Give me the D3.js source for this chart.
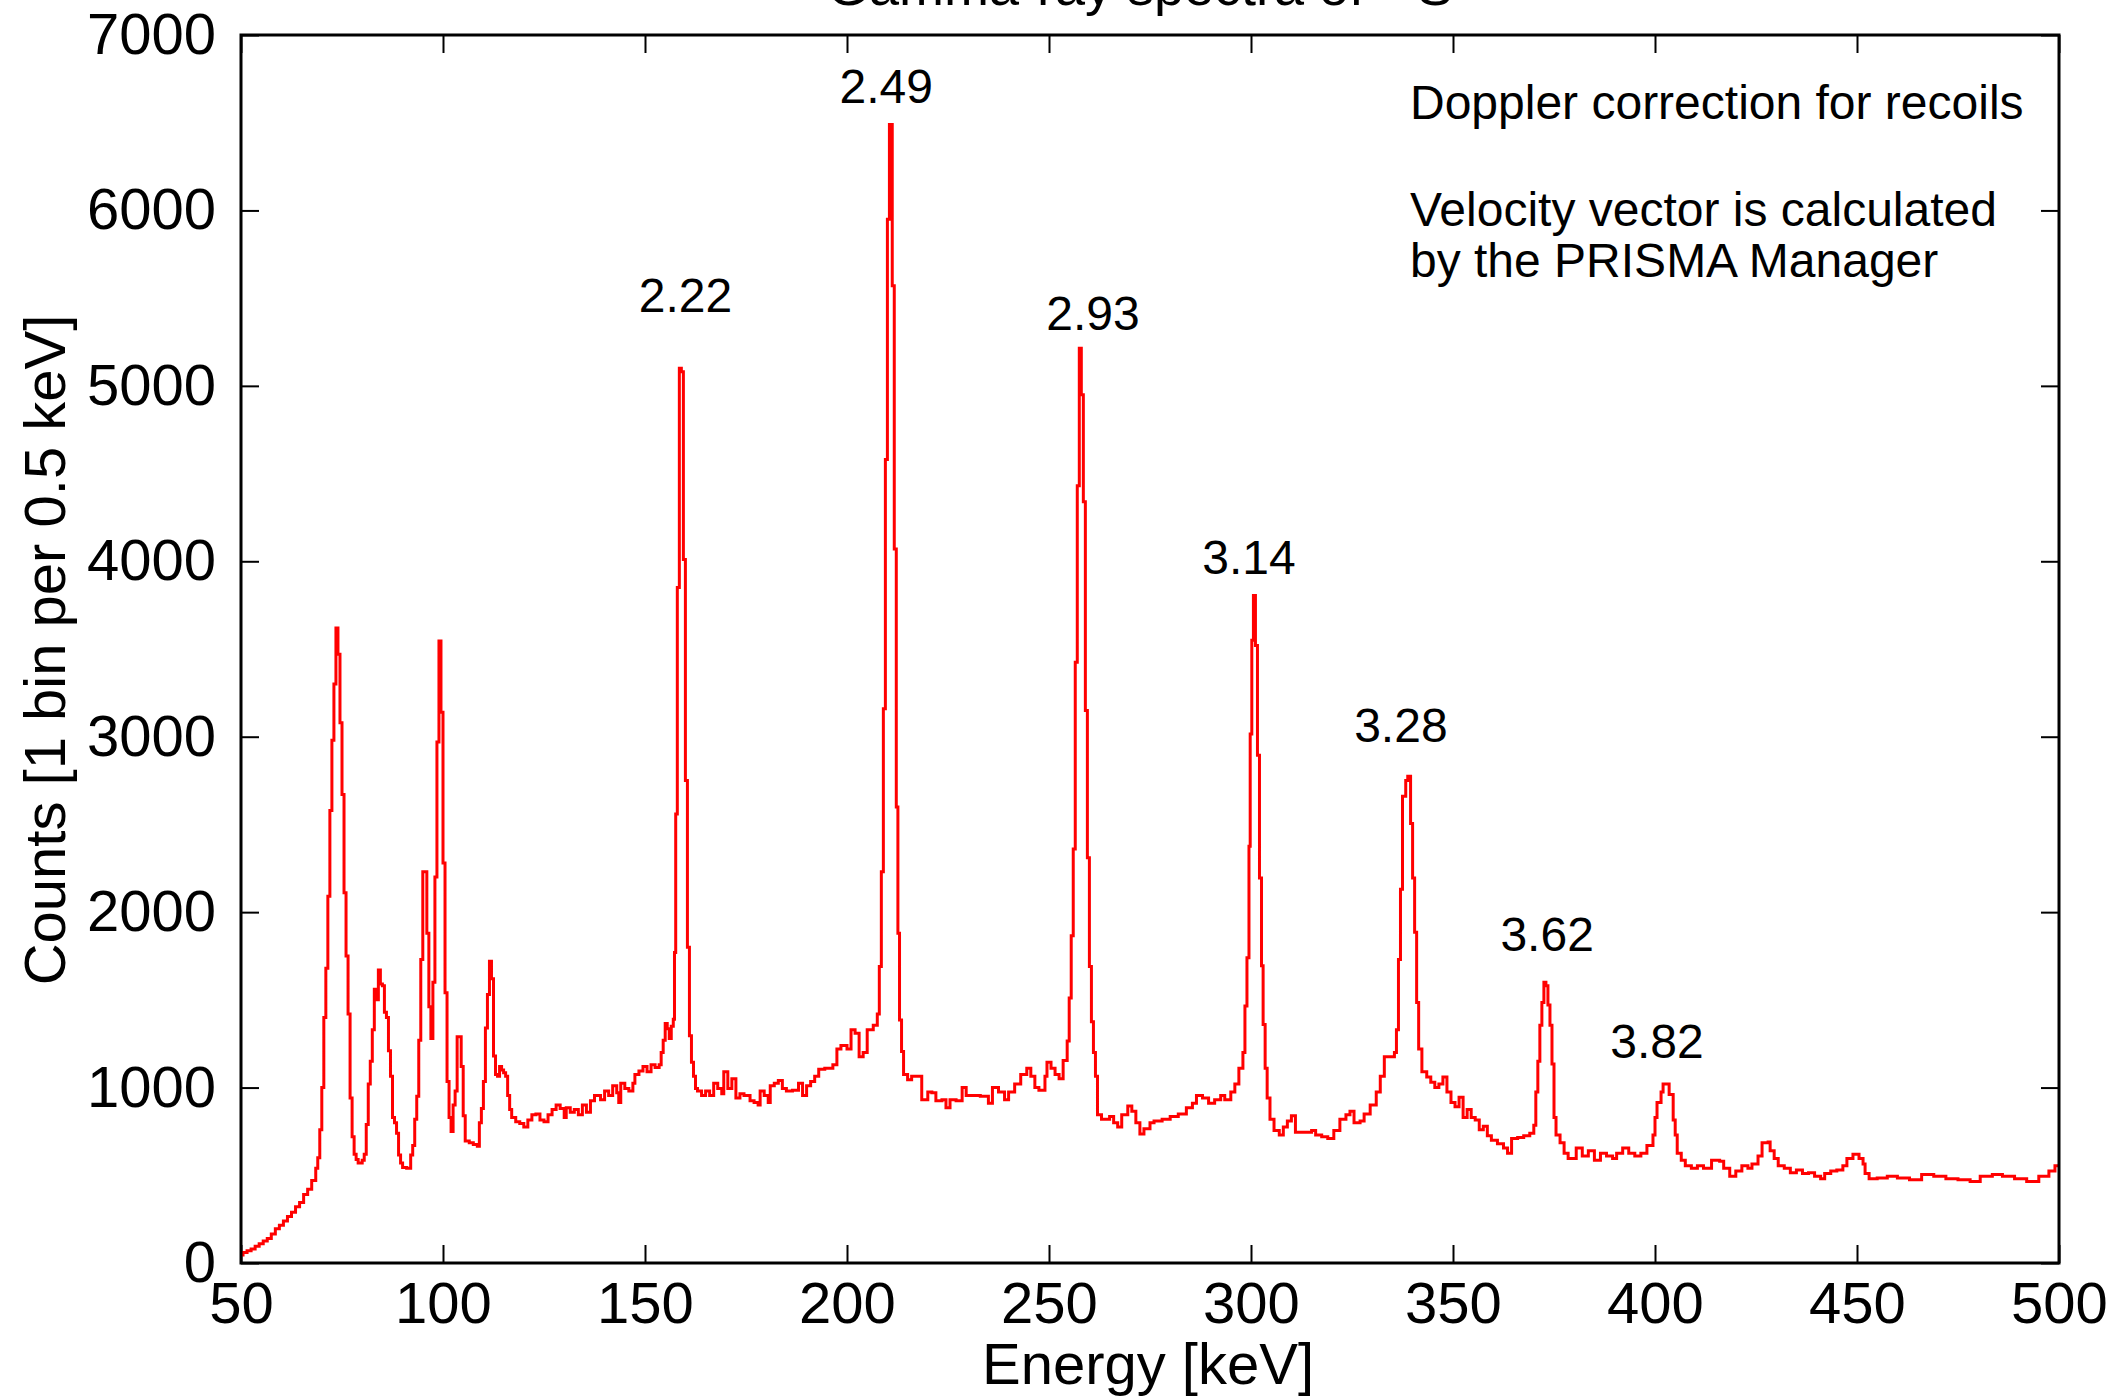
<!DOCTYPE html>
<html lang="en">
<meta charset="utf-8">
<head>
    <script src='https://d3js.org/d3.v7.min.js'></script>
    <style>
        body { margin: 0; background: #fff; }
        text { font-family: "Liberation Sans", Arial, sans-serif; fill: #000; }
    </style>
</head>
<body>
</body>

<script>
    var width = 2118, height = 1397;
    var margin = {left: 241, right: 59, top: 35, bottom: 134};

    // spectrum: [energy keV (bin start), counts]
    var spectrum = [
        [50,45],[50.5,60],[51.5,70],[52.5,80],[53.5,95],[54.5,110],[55.5,125],[56.5,140],[57.5,165],
        [58.5,195],[59.5,215],[60.5,240],[61.5,265],[62.5,290],[63.5,320],[64.5,345],[65.5,390],
        [66.5,420],[67.5,470],[68.5,540],[69,600],[69.5,760],[70,1000],[70.5,1400],[71,1680],
        [71.5,2090],[72,2580],[72.5,2980],[73,3300],[73.5,3620],[74,3470],[74.5,3080],[75,2670],
        [75.5,2110],[76,1750],[76.5,1420],[77,940],[77.5,720],[78,620],[78.5,590],[79,570],[80,585],
        [80.5,620],[81,790],[81.5,1020],[82,1150],[82.5,1330],[83,1560],[83.5,1500],[84,1670],
        [84.5,1590],[85,1580],[85.5,1430],[86,1400],[86.5,1210],[87,1065],[87.5,830],[88,800],
        [88.5,740],[89,615],[89.5,570],[90,545],[91,540],[92,615],[92.5,670],[93,820],[93.5,950],
        [94,1270],[94.5,1730],[95,2230],[96,1880],[96.5,1460],[97,1280],[97.5,1600],[98,2200],
        [98.5,2970],[99,3545],[99.5,3140],[100,2280],[100.5,1540],[101,1035],[101.5,830],[102,750],
        [102.5,900],[103,980],[103.5,1290],[104.5,1120],[105,840],[105.5,695],[106.5,685],[107.5,675],
        [108.5,665],[109,800],[109.5,880],[110,1035],[110.5,1340],[111,1530],[111.5,1720],[112,1620],
        [112.5,1180],[113,1075],[113.5,1065],[114,1120],[114.5,1100],[115,1085],[115.5,1065],[116,955],
        [116.5,875],[117,830],[118,805],[119,795],[120,775],[121,815],[122,845],[123,850],[124,815],
        [125,805],[126,845],[127,875],[128,900],[129,880],[130,830],[130.5,885],[131.5,860],[132.5,875],
        [133.5,845],[134.5,900],[135.5,860],[136.5,925],[137.5,955],[139,930],[140,980],[141,955],
        [142,1010],[143,970],[143.5,915],[144,1025],[145,995],[146,980],[147,1025],[147.5,1075],
        [148.5,1095],[149.5,1120],[150.5,1090],[151.5,1130],[152.5,1115],[153.5,1130],[154,1200],
        [154.5,1270],[155,1365],[155.5,1335],[156,1280],[156.5,1350],[157,1390],[157.3,1770],
        [157.6,2560],[158,3850],[158.5,5100],[159,5080],[159.5,4010],[160,2750],[160.5,1800],
        [161,1295],[161.5,1145],[162,1065],[162.5,995],[163,980],[164,955],[165,980],[166,955],
        [167,1025],[168,995],[169,965],[169.5,1090],[170.5,995],[171.5,1050],[172.5,940],[173.5,965],
        [174.5,955],[176,925],[177,915],[178,900],[178.5,980],[179.5,955],[180.5,915],[181,1010],
        [182,1025],[183,1040],[184,995],[185,980],[186.5,985],[188,1025],[189,955],[190,1010],
        [191,1035],[192,1065],[193,1105],[194.5,1110],[196.5,1130],[197.5,1220],[198.5,1240],
        [200,1220],[201,1330],[202,1310],[203,1175],[204,1200],[205,1330],[206.5,1355],[207.5,1420],
        [208,1690],[208.5,2230],[209,3160],[209.5,4580],[210,5950],[210.5,6490],[211.2,5570],
        [211.7,4070],[212.2,2600],[212.6,1880],[213,1385],[213.5,1205],[214,1075],[215,1045],
        [216,1065],[218.5,930],[220,975],[221,970],[222,925],[223.5,930],[224.5,885],[225.5,930],
        [227,925],[228.5,1000],[229.5,955],[231,955],[233,950],[235,910],[236,1000],[237.5,975],
        [239,930],[240,975],[241.5,1020],[243,1075],[244.5,1110],[245.5,1065],[246.5,1000],[247.5,985],
        [249,1065],[249.5,1145],[250.5,1110],[251.5,1075],[252.5,1050],[253.5,1155],[254.5,1265],
        [255,1510],[255.5,1865],[256,2360],[256.5,3425],[257,4430],[257.5,5215],[258,4950],[258.5,4340],
        [259,3150],[259.5,2310],[260,1690],[260.5,1375],[261,1200],[261.5,1065],[262,845],[263,820],
        [265,835],[266,800],[267,775],[268,845],[269.5,895],[270.5,865],[271.5,800],[272.5,735],
        [273.5,765],[275,800],[276,810],[278,820],[280,835],[282,850],[284,885],[285.5,910],[286.5,955],
        [288,940],[289.5,910],[291,930],[292.5,955],[293.5,930],[295,975],[296,1020],[297,1110],
        [298,1200],[298.5,1465],[299,1740],[299.5,2375],[299.8,3015],[300.2,3550],[300.6,3805],
        [301.1,3520],[301.6,2895],[302.1,2195],[302.6,1695],[303,1360],[303.5,1110],[304,940],
        [304.7,820],[305.7,755],[307,730],[308,775],[309,810],[310,840],[311,745],[313,745],[315,755],
        [316,730],[317.5,720],[319,710],[320.5,755],[322,820],[323.5,845],[324.5,865],[325.5,800],
        [327,810],[328,850],[329.5,900],[331,975],[332,1065],[333,1175],[335.5,1200],[336,1330],
        [336.5,1730],[337,2130],[337.5,2660],[338.3,2750],[338.8,2775],[339.5,2505],[340,2195],
        [340.5,1885],[341,1485],[341.5,1220],[342.3,1090],[343.5,1060],[344.5,1030],[345.5,1000],
        [346.5,1020],[347.5,1060],[348.5,975],[349.5,915],[350.5,890],[351.5,945],[352.5,830],
        [353.5,875],[354.5,830],[355.5,815],[356.5,760],[357.5,780],[358.5,725],[359.5,700],[361,680],
        [362.5,655],[363.5,625],[364.5,710],[366,715],[367.5,725],[369,740],[370,785],[370.5,975],
        [371,1150],[371.5,1355],[372,1485],[372.5,1600],[373,1580],[373.5,1470],[374,1355],[374.5,1135],
        [375,830],[375.5,730],[376.5,685],[377.5,625],[378.5,595],[380.5,655],[382,610],[383.5,640],
        [385,585],[386.5,625],[388,610],[389.5,595],[390.5,625],[392,655],[393.5,625],[395,610],
        [396.5,625],[398,670],[399.5,730],[400,830],[400.5,915],[401.5,975],[402,1020],[403,1020],
        [403.5,960],[404.5,815],[405,730],[405.5,625],[406.5,585],[407.5,555],[409,540],[410.5,555],
        [412,540],[414,585],[416,580],[417,540],[418.5,495],[420,525],[421.5,555],[423,540],[424,565],
        [425.5,610],[426.5,685],[428,690],[428.5,640],[429.5,595],[430.5,555],[432,540],[433.5,515],
        [435,530],[436.5,510],[438,515],[439.5,495],[441,480],[442,510],[443.5,525],[445,530],
        [446.5,555],[447.5,595],[449,620],[450.5,595],[451.5,565],[452,510],[453,480],[455,485],
        [457.5,495],[460,485],[463,475],[466,505],[469,495],[472,480],[475,475],[478,465],[480.5,495],
        [483.5,505],[486,495],[489,480],[492,465],[495,495],[497.5,525],[499,555],[500,555]
    ];

    // peak labels: [text, energy, counts at label baseline]
    var peakLabels = [
        ['2.22', 160, 5420], ['2.49', 209.7, 6610], ['2.93', 260.9, 5320], ['3.14', 299.5, 3930],
        ['3.28', 337.1, 2970], ['3.62', 373.3, 1780], ['3.82', 400.5, 1170]
    ];
    var notes = ['Doppler correction for recoils', '', 'Velocity vector is calculated', 'by the PRISMA Manager'];
    var xTicks = d3.range(50, 501, 50);
    var yTicks = d3.range(0, 7001, 1000);

    var svg = d3.select('body').append('svg').attr('width', width).attr('height', height);
    svg.append('rect').attr('width', width).attr('height', height).attr('fill', '#fff');

    var x = d3.scaleLinear().domain([50, 500]).range([margin.left, width - margin.right]);
    var y = d3.scaleLinear().domain([0, 7000]).range([height - margin.bottom, margin.top]);

    // title (mostly cut off at the top edge, as in the original)
    svg.append('text')
        .attr('x', 1140).attr('y', 5)
        .attr('text-anchor', 'middle')
        .style('font-size', '54px')
        .html('Gamma-ray spectra of <tspan baseline-shift="super" font-size="34px">36</tspan>S');

    // axes, ticks pointing inward
    function styleAxis(g) {
        g.select('.domain').remove();
        g.selectAll('.tick line').attr('stroke', '#000').attr('stroke-width', 2);
        g.selectAll('.tick text').style('font-size', '58px').attr('fill', '#000');
    }
    svg.append('g').attr('transform', 'translate(0,' + y(0) + ')')
        .call(d3.axisBottom(x).tickValues(xTicks).tickSizeInner(-18).tickSizeOuter(0).tickPadding(19))
        .call(styleAxis);
    svg.append('g').attr('transform', 'translate(0,' + y(7000) + ')')
        .call(d3.axisTop(x).tickValues(xTicks).tickSizeInner(-18).tickSizeOuter(0).tickFormat(''))
        .call(styleAxis);
    svg.append('g').attr('transform', 'translate(' + x(50) + ',0)')
        .call(d3.axisLeft(y).tickValues(yTicks).tickFormat(d3.format('d'))
            .tickSizeInner(-18).tickSizeOuter(0).tickPadding(25))
        .call(styleAxis);
    svg.append('g').attr('transform', 'translate(' + x(500) + ',0)')
        .call(d3.axisRight(y).tickValues(yTicks).tickSizeInner(-18).tickSizeOuter(0).tickFormat(''))
        .call(styleAxis);

    // clip + histogram line
    svg.append('clipPath').attr('id', 'plot')
        .append('rect').attr('x', x(50)).attr('y', y(7000))
        .attr('width', x(500) - x(50)).attr('height', y(0) - y(7000));

    var line = d3.line()
        .x(function(d) { return x(d[0]); })
        .y(function(d) { return y(d[1]); })
        .curve(d3.curveStepAfter);

    svg.append('path')
        .datum(spectrum)
        .attr('clip-path', 'url(#plot)')
        .attr('fill', 'none')
        .attr('stroke', '#ff0000')
        .attr('stroke-width', 3)
        .attr('d', line);

    // frame
    svg.append('rect')
        .attr('x', x(50)).attr('y', y(7000))
        .attr('width', x(500) - x(50)).attr('height', y(0) - y(7000))
        .attr('fill', 'none').attr('stroke', '#000').attr('stroke-width', 3);

    // peak labels
    svg.selectAll('.peak')
        .data(peakLabels)
        .join('text')
        .attr('class', 'peak')
        .attr('x', function(d) { return x(d[1]); })
        .attr('y', function(d) { return y(d[2]); })
        .attr('text-anchor', 'middle')
        .style('font-size', '48px')
        .text(function(d) { return d[0]; });

    // notes
    svg.selectAll('.note')
        .data(notes)
        .join('text')
        .attr('class', 'note')
        .attr('x', 1410)
        .attr('y', function(d, i) { return [119, 172, 226, 277][i]; })
        .style('font-size', '48px')
        .text(function(d) { return d; });

    // axis titles
    svg.append('text')
        .attr('x', 1148).attr('y', 1384)
        .attr('text-anchor', 'middle')
        .style('font-size', '58px')
        .text('Energy [keV]');
    svg.append('text')
        .attr('transform', 'translate(65,650) rotate(-90)')
        .attr('text-anchor', 'middle')
        .style('font-size', '58px')
        .text('Counts [1 bin per 0.5 keV]');

    console.log('ready..');
</script>
